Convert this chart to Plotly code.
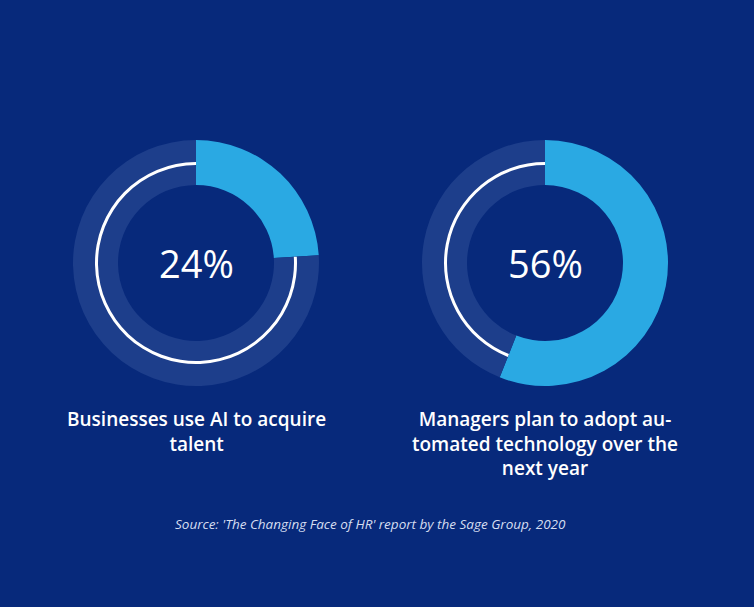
import plotly.graph_objects as go

# shares shown in the two rings (percent)
shares = [24, 56]
labels = ["Businesses use AI to acquire<br>talent",
          "Managers plan to adopt au-<br>tomated technology over the<br>next year"]
source = "Source: 'The Changing Face of HR' report by the Sage Group, 2020"

W, H = 754, 607
bg = "#07297b"
ring_bg = "#1d3e8b"
ring_fg = "#2aa9e3"

centers_x = [196, 545]
center_y = 263
r_out, r_in, r_line = 123, 78, 101

fig = go.Figure()


def dom(cx, cy, r):
    yb = H - cy
    return dict(x=[(cx - r) / W, (cx + r) / W], y=[(yb - r) / H, (yb + r) / H])


for share, cx in zip(shares, centers_x):
    rest = 100 - share
    # main ring
    fig.add_trace(go.Pie(
        values=[share, rest], sort=False, direction="clockwise", rotation=0,
        hole=r_in / r_out, domain=dom(cx, center_y, r_out),
        marker=dict(colors=[ring_fg, ring_bg], line=dict(width=0)),
        textinfo="none", hoverinfo="skip", showlegend=False,
    ))
    # thin white arc over the remaining part
    fig.add_trace(go.Pie(
        values=[share, rest], sort=False, direction="clockwise", rotation=0,
        hole=(r_line - 3) / r_line, domain=dom(cx, center_y, r_line),
        marker=dict(colors=["rgba(0,0,0,0)", "white"], line=dict(width=0)),
        textinfo="none", hoverinfo="skip", showlegend=False,
    ))
    fig.add_annotation(x=cx / W, y=1 - center_y / H, xref="paper", yref="paper",
                       text=f"{share}%", showarrow=False,
                       xanchor="center", yanchor="middle",
                       font=dict(family="Open Sans", size=38, color="white"))

for lab, cx in zip(labels, centers_x):
    fig.add_annotation(x=cx / W, y=1 - 404 / H, xref="paper", yref="paper",
                       text=lab, showarrow=False, xanchor="center", yanchor="top",
                       align="center",
                       font=dict(family="Open Sans", size=19, color="white", weight=600))

fig.add_annotation(x=370 / W, y=1 - 524 / H, xref="paper", yref="paper",
                   text=f"<i>{source}</i>", showarrow=False,
                   xanchor="center", yanchor="middle",
                   font=dict(family="Open Sans", size=13.5, color="#d5ddf0"))

fig.update_layout(
    width=W, height=H,
    margin=dict(l=0, r=0, t=0, b=0),
    paper_bgcolor=bg, plot_bgcolor=bg,
)

fig.write_html("out.html", config={"displayModeBar": False},
               post_script="document.body.style.margin='0';")
